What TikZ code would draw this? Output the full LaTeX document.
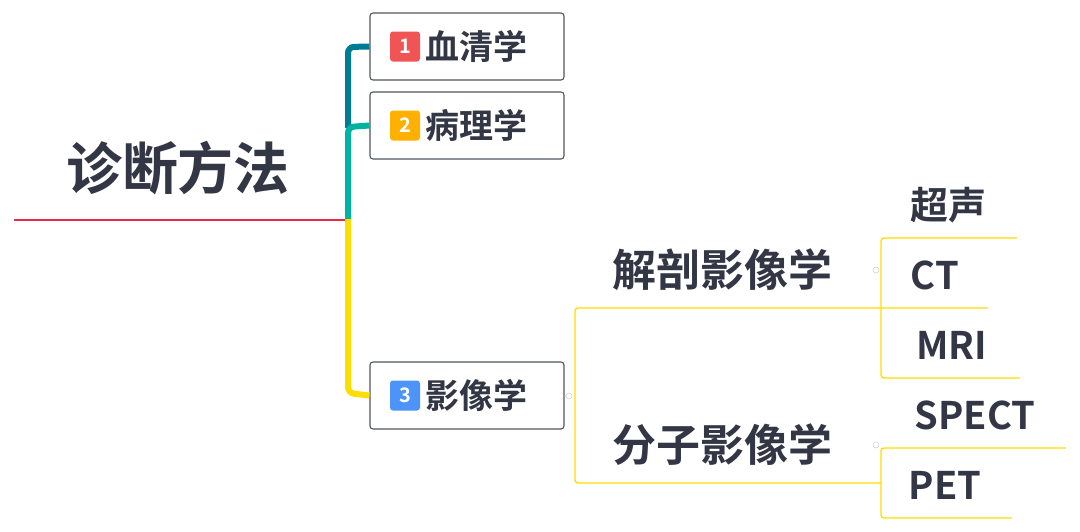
\documentclass[tikz,border=0pt]{standalone}
\usepackage{fontspec}
\setmainfont{Noto Sans CJK SC}[BoldFont={* Bold}]
\begin{document}
\begin{tikzpicture}[x=1pt,y=-1pt,
  txt/.style={text=ink,font=\bfseries},
  boxn/.style={draw=ink!85,line width=1.1pt,rounded corners=3pt,minimum width=194pt,minimum height=67pt,inner sep=0pt},
  badge/.style={fill=#1,rounded corners=3pt,minimum size=30pt,inner sep=0pt,text=white,font=\bfseries\fontsize{20}{20}\selectfont},
  yl/.style={draw=lineY,line width=1.4pt,rounded corners=3pt},
  knob/.style={circle,draw=gray!40,line width=0.5pt,minimum size=6pt,inner sep=0pt}]
\definecolor{ink}{HTML}{333644}
\definecolor{lineY}{HTML}{FFDD00}
\definecolor{tealA}{HTML}{007B94}
\definecolor{tealB}{HTML}{00B2A0}
\definecolor{redL}{HTML}{E8294A}
\useasboundingbox (0,0) rectangle (1080,531);
% root
\node[txt,font=\bfseries\fontsize{56}{56}\selectfont] (root) at (178,168) {诊断方法};
\coordinate (r0) at (14,220);
\coordinate (r1) at (346,220);
\draw[redL,line width=2pt] (r0) -- (r1);
% boxes
\node[boxn] (b1) at (467,46.5) {};
\node[boxn] (b2) at (467,125.5) {};
\node[boxn] (b3) at (467,395.5) {};
\foreach \b/\c/\n/\t in {b1/F05454/1/血清学, b2/FFB000/2/病理学, b3/4C94F8/3/影像学}{
  \definecolor{bc}{HTML}{\c}
  \node[badge=bc] (\b n) at ([xshift=-62pt]\b.center) {\n};
  \node[txt,font=\bfseries\fontsize{34}{34}\selectfont,anchor=west] (\b t) at ([xshift=2pt]\b n.east) {\t};
}
% trunk
\draw[tealA,line width=6pt,rounded corners=6pt] (348,128) -- (348,47) -- (b1.west);
\draw[tealB,line width=6pt,rounded corners=6pt] (348,220) -- (348,127) -- (b2.west);
\draw[lineY,line width=6pt,rounded corners=6pt] (348,219) -- (348,393) -- (b3.west);
% level 2
\node[knob] (k3) at (569,396) {};
\node[txt,font=\bfseries\fontsize{44}{44}\selectfont] (a) at (722,270) {解剖影像学};
\node[txt,font=\bfseries\fontsize{44}{44}\selectfont] (m) at (722,445) {分子影像学};
\coordinate (aend) at (988,308);
\coordinate (mend) at (881,483);
\draw[yl] (aend) -- (575,308) -- (575,483) -- (mend);
\draw[lineY,line width=1pt] (b3.east) -- (k3);
% level 3
\node[knob] (ka) at (876,270) {};
\node[knob] (km) at (876,445) {};
\node[txt,font=\bfseries\fontsize{38}{38}\selectfont] (us) at (948,205) {超声};
\node[txt,font=\bfseries\fontsize{38}{38}\selectfont] (ct) at (935,275) {CT};
\node[txt,font=\bfseries\fontsize{38}{38}\selectfont] (mri) at (952,345) {MRI};
\node[txt,font=\bfseries\fontsize{38}{38}\selectfont] (sp) at (975,415) {SPECT};
\node[txt,font=\bfseries\fontsize{38}{38}\selectfont] (pet) at (945,485) {PET};
\coordinate (u1) at (1017,238);
\coordinate (u2) at (1020,378);
\coordinate (s1) at (1066,448);
\coordinate (s2) at (1012,518);
\draw[yl] (u1) -- (881,238) -- (881,378) -- (u2);
\draw[yl] (s1) -- (881,448) -- (881,518) -- (s2);
\end{tikzpicture}
\end{document}
